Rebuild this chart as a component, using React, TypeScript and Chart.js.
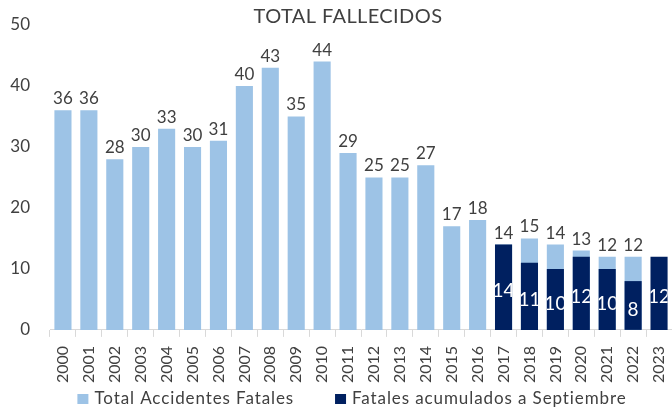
import React, { useEffect, useRef } from "react";
import { Chart, registerables } from "chart.js";

Chart.register(...registerables);

const titleText = "TOTAL FALLECIDOS";
const years = [
  "2000", "2001", "2002", "2003", "2004", "2005", "2006", "2007", "2008", "2009", "2010", "2011",
  "2012", "2013", "2014", "2015", "2016", "2017", "2018", "2019", "2020", "2021", "2022", "2023",
];
const totalFatales: (number | null)[] = [
  36, 36, 28, 30, 33, 30, 31, 40, 43, 35, 44, 29, 25, 25, 27, 17, 18, 14, 15, 14, 13, 12, 12, null,
];
const fatalesSeptiembre: (number | null)[] = [
  null, null, null, null, null, null, null, null, null, null, null, null,
  null, null, null, null, null, 14, 11, 10, 12, 10, 8, 12,
];
const seriesNames = ["Total Accidentes Fatales", "Fatales acumulados a Septiembre"];

const LIGHT = "#9DC3E6";
const DARK = "#002060";
const TEXT = "#404040";
const FONT = "Lato, 'Open Sans', sans-serif";

const labelsPlugin = {
  id: "customLabels",
  afterDatasetsDraw(chart: any) {
    const ctx = chart.ctx;
    const m0 = chart.getDatasetMeta(0);
    ctx.save();
    ctx.font = `17px ${FONT}`;
    ctx.fillStyle = TEXT;
    ctx.textAlign = "center";
    ctx.textBaseline = "alphabetic";
    m0.data.forEach((el: any, i: number) => {
      const v = totalFatales[i];
      if (v == null) return;
      ctx.fillText(String(v), el.x, el.y - 6);
    });
    ctx.restore();
    const m1 = chart.getDatasetMeta(1);
    m1.data.forEach((el: any, i: number) => {
      const v = fatalesSeptiembre[i];
      if (v == null) return;
      const w = el.width;
      ctx.save();
      ctx.beginPath();
      ctx.rect(el.x - w / 2, el.y, w, el.base - el.y);
      ctx.clip();
      ctx.font = `19px ${FONT}`;
      ctx.fillStyle = "#FFFFFF";
      ctx.textAlign = "center";
      ctx.textBaseline = "middle";
      ctx.fillText(String(v), el.x, (el.y + el.base) / 2 + 4);
      ctx.restore();
    });
  },
};

const titleLegendPlugin = {
  id: "customTitleLegend",
  afterDraw(chart: any) {
    const ctx = chart.ctx;
    ctx.save();
    ctx.font = `20px ${FONT}`;
    (ctx as any).letterSpacing = "0.4px";
    ctx.fillStyle = TEXT;
    ctx.textAlign = "center";
    ctx.textBaseline = "middle";
    ctx.fillText(titleText, chart.width / 2 + 12, 17);
    ctx.font = `17px ${FONT}`;
    (ctx as any).letterSpacing = "0.9px";
    ctx.textAlign = "left";
    const colors = [LIGHT, DARK];
    const box = 11;
    const gapBoxText = 6;
    const gapItems = 41;
    const widths = seriesNames.map((s) => ctx.measureText(s).width);
    const total = widths.reduce((a, w) => a + box + gapBoxText + w, 0) + gapItems;
    let x = chart.width / 2 + 16 - total / 2;
    const cy = 399;
    seriesNames.forEach((s, i) => {
      ctx.fillStyle = colors[i];
      ctx.fillRect(x, cy - 5, box, 10);
      ctx.fillStyle = TEXT;
      ctx.fillText(s, x + box + gapBoxText, cy);
      x += box + gapBoxText + widths[i] + gapItems;
    });
    ctx.restore();
  },
};

export default function App() {
  const ref = useRef<HTMLCanvasElement | null>(null);
  useEffect(() => {
    if (!ref.current) return;
    const chart = new Chart(ref.current, {
      type: "bar",
      data: {
        labels: years,
        datasets: [
          {
            label: seriesNames[0],
            data: totalFatales,
            backgroundColor: LIGHT,
            grouped: false,
            order: 2,
            barPercentage: 0.66,
            categoryPercentage: 1,
          } as any,
          {
            label: seriesNames[1],
            data: fatalesSeptiembre,
            backgroundColor: DARK,
            grouped: false,
            order: 1,
            barPercentage: 0.66,
            categoryPercentage: 1,
          } as any,
        ],
      },
      options: {
        animation: false,
        responsive: false,
        maintainAspectRatio: false,
        layout: { padding: { left: 10, right: 0, top: 25, bottom: 18 } },
        plugins: {
          legend: { display: false },
          tooltip: { enabled: false },
          title: { display: false },
        },
        scales: {
          x: {
            offset: true,
            afterFit: (s: any) => {
              s.paddingLeft = 0;
              s.paddingRight = 0;
            },
            grid: {
              display: true,
              offset: true,
              drawOnChartArea: false,
              drawTicks: true,
              tickLength: 7,
              color: "#D9D9D9",
            },
            border: { display: true, color: "#D9D9D9" },
            ticks: {
              minRotation: 90,
              maxRotation: 90,
              autoSkip: false,
              font: { family: FONT, size: 16 },
              color: TEXT,
              padding: 9,
            },
          },
          y: {
            min: 0,
            max: 50,
            afterFit: (s: any) => {
              s.width = 40;
              s.paddingTop = 0;
              s.paddingBottom = 0;
            },
            grid: { display: false, drawTicks: false },
            border: { display: false },
            ticks: {
              stepSize: 10,
              font: { family: FONT, size: 17 },
              color: TEXT,
              padding: 20,
            },
          },
        },
      } as any,
      plugins: [labelsPlugin, titleLegendPlugin],
    });
    return () => chart.destroy();
  }, []);
  return (
    <div style={{ position: "fixed", left: 0, top: 0, width: 672, height: 410, background: "#fff" }}>
      <canvas ref={ref} width={672} height={410} style={{ width: 672, height: 410 }} />
    </div>
  );
}
